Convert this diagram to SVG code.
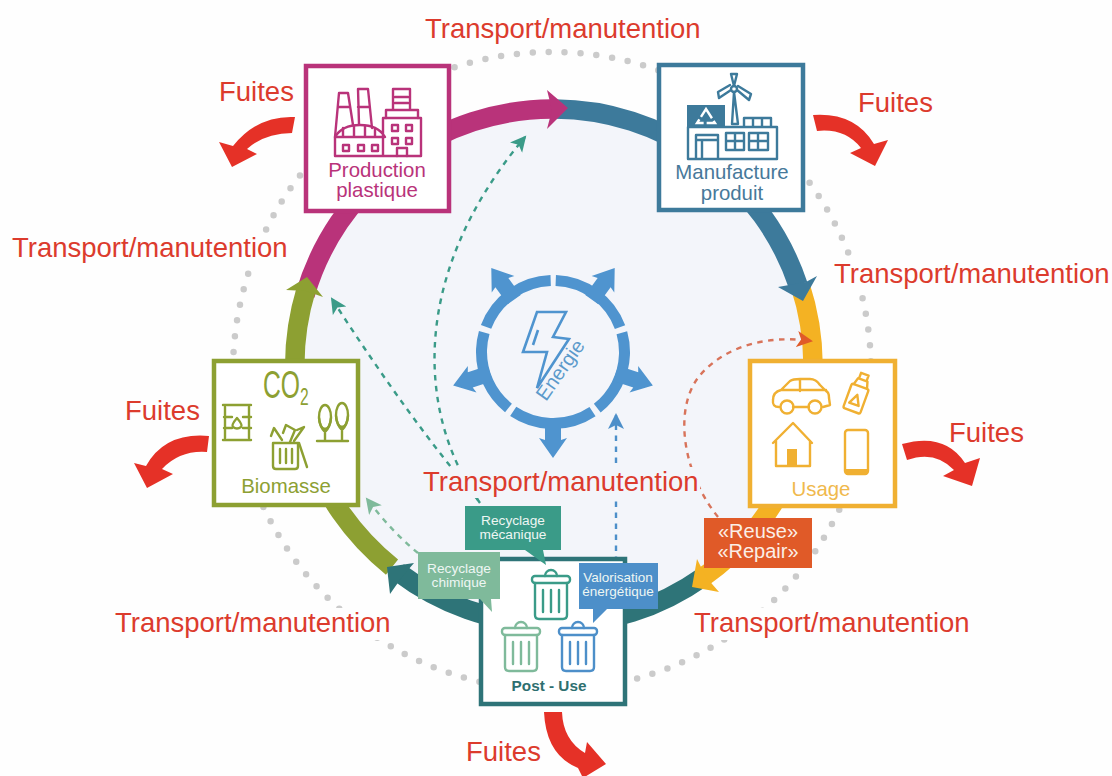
<svg xmlns="http://www.w3.org/2000/svg" xmlns:xlink="http://www.w3.org/1999/xlink" width="1112" height="776" viewBox="0 0 1112 776">
<style>
text{font-family:"Liberation Sans",Arial,sans-serif}
.red{fill:#dc3b2d;font-size:27.5px}
.box{fill:#fff;stroke-width:4.5}
.lbl{font-size:20.4px;text-anchor:middle}
.call{font-size:13.7px;text-anchor:middle;fill:#eef6f3}
.arc{fill:none;stroke-width:19.5}
.dash{fill:none;stroke-width:2.4;stroke-dasharray:5.5 5.5}
.leak{fill:#e53127}
.ic{fill:none;stroke-width:2.4;stroke-linejoin:round;stroke-linecap:round}
</style>
<defs>
<marker id="mGreen" markerUnits="userSpaceOnUse" markerWidth="18" markerHeight="18" refX="14" refY="8" orient="auto"><path d="M0,0 L16,8 L0,16 L4,8Z" fill="#3a9b88"/></marker>
<marker id="mLight" markerUnits="userSpaceOnUse" markerWidth="18" markerHeight="18" refX="14" refY="8" orient="auto"><path d="M0,0 L16,8 L0,16 L4,8Z" fill="#7fba9b"/></marker>
<marker id="mBlue" markerUnits="userSpaceOnUse" markerWidth="18" markerHeight="18" refX="14" refY="8" orient="auto"><path d="M0,0 L16,8 L0,16 L4,8Z" fill="#4d8fc9"/></marker>
<marker id="mOrange" markerUnits="userSpaceOnUse" markerWidth="18" markerHeight="18" refX="14" refY="8" orient="auto"><path d="M0,0 L16,8 L0,16 L4,8Z" fill="#e05a28"/></marker>
<g id="bin"><path d="M545,576 a6,6 0 0 1 12,0"/><rect x="532" y="576" width="38" height="7" rx="3"/><path d="M535,583 V615 q0,4 4,4 H563 q4,0 4,-4 V583"/><path d="M543,590 V612 M551,590 V612 M559,590 V612"/></g>
<path id="earrow" d="M0,-105 L14,-85 L8,-87 L8,-66 L-8,-66 L-8,-87 L-14,-85Z" fill="#4f94cf"/>
</defs>
<rect width="1112" height="776" fill="#fefefe"/>
<circle cx="555" cy="367" r="258" fill="#f3f5fa"/>
<circle cx="552" cy="371" r="319" fill="none" stroke="#cbcbcb" stroke-width="6.5" stroke-linecap="round" stroke-dasharray="0 15.95"/>
<g fill="#fefefe">
<rect x="425" y="15" width="275" height="30"/>
<rect x="12" y="233" width="276" height="32"/>
<rect x="834" y="256" width="276" height="36"/>
<rect x="115" y="608" width="276" height="32"/>
<rect x="694" y="608" width="276" height="32"/>
</g>

<g id="connectors">
<path class="arc" stroke="#b9337a" d="M305,295 A258,258 0 0 1 552,109"/>
<path class="arc" stroke="#3d7a9b" d="M555,109 A258,258 0 0 1 798,285"/>
<path class="arc" stroke="#f4b223" d="M800,285 A258,258 0 0 1 702,578"/>
<path class="arc" stroke="#2e7478" d="M703,577 A258,258 0 0 1 398,572"/>
<path class="arc" stroke="#8da032" d="M392,567 A258,258 0 0 1 306,290"/>
<path fill="#b9337a" d="M547,90 L568,108 L547,129 L552,110Z"/>
<path fill="#3d7a9b" d="M778,287 L803,301 L817,276 L806,282Z"/>
<path fill="#f4b223" d="M697,559 L692,587 L719,592 L706,577Z"/>
<path fill="#2e7478" d="M387,567 L414,563 L402,577 L390,594Z"/>
<path fill="#8da032" d="M286,290 L307,277 L323,297 L306,291Z"/>
<path class="dash" stroke="#3a9b88" marker-end="url(#mGreen)" d="M480,503 C420,420 405,280 525,137"/>
<path class="dash" stroke="#3a9b88" marker-end="url(#mGreen)" d="M478,500 Q410,420 332,299"/>
<path class="dash" stroke="#7fba9b" marker-end="url(#mLight)" d="M418,553 Q392,532 367,499"/>
<path class="dash" stroke="#4d8fc9" marker-end="url(#mBlue)" d="M616,562 V415"/>
<path class="dash" stroke="#d8735a" marker-end="url(#mOrange)" d="M718,517 C680,470 672,400 705,370 C730,345 770,335 811,341"/>
<rect x="423" y="467" width="277" height="31" fill="#f3f5fa"/>
</g>

<g id="energie">
<circle cx="553" cy="352" r="71.5" fill="none" stroke="#4f94cf" stroke-width="11" stroke-dasharray="84 5.84" transform="rotate(-87.8 553 352)"/>
<use xlink:href="#earrow" href="#earrow" transform="translate(553,353) rotate(-36)"/>
<use xlink:href="#earrow" href="#earrow" transform="translate(553,353) rotate(36)"/>
<use xlink:href="#earrow" href="#earrow" transform="translate(553,353) rotate(108)"/>
<use xlink:href="#earrow" href="#earrow" transform="translate(553,353) rotate(180)"/>
<use xlink:href="#earrow" href="#earrow" transform="translate(553,353) rotate(252)"/>
<path fill="none" stroke="#4f94cf" stroke-width="2.6" stroke-linejoin="miter" d="M537,312 H566 L553,337 L569,339 L537,388 L547,352 H523Z M538,330 L533,345"/>
<text transform="translate(546,402) rotate(-55)" font-size="20" fill="#5c9acb">Energie</text>
</g>

<g id="production">
<rect class="box" x="306" y="66" width="143" height="145" stroke="#b9337a"/>
<g class="ic" stroke="#b9337a">
<path d="M335,137 L339,93 H348 L353,125 M339,107 H349 M359,124 L358,89 H368 L372,128 M358,107 H369"/>
<path d="M335,156 V137 Q342,125 360,125 Q378,125 385,137 H335 M335,156 H421 V118 H383 V156"/>
<path d="M343,128 V136 M354,126 V136 M365,126 V136 M375,128 V136"/>
<path d="M343,145 h6 v6 h-6z M358,145 h6 v6 h-6z M372,145 h6 v6 h-6z"/>
<path d="M393,89 H410 V110 H393Z M395,97 H408 M395,103 H408 M386,110 H418 V118 M386,110 V118"/>
<path d="M392,125 h6 v6 h-6z M406,125 h6 v6 h-6z M392,138 h6 v6 h-6z M406,138 h6 v6 h-6z M397,156 V148 H407 V156"/>
</g>
<text class="lbl" x="377" y="177" fill="#b9337a">Production</text>
<text class="lbl" x="377" y="197" fill="#b9337a">plastique</text>
</g>

<g id="manufacture">
<rect class="box" x="659" y="65" width="144" height="145" stroke="#3d7a9b"/>
<rect x="687" y="105" width="38" height="22" fill="#3d7a9b"/>
<path d="M706,109 L715,123 H697Z" fill="none" stroke="#fff" stroke-width="2.4" stroke-dasharray="11 3"/>
<g class="ic" stroke="#3d7a9b">
<path d="M732,124 L734,92 L738,124Z M734,86 L731,74 H737Z M737,90 L749,100 L751,94 L738,86 M731,90 L719,98 L718,92 L730,85"/>
<circle cx="734" cy="89" r="3"/>
<path d="M744,126 V118 H771 V126 M753,118 V126 M762,118 V126"/>
<path d="M688,127 H777 V159 H688Z M696,159 V135 H718 V159 M702,140 V159 M696,140 H718"/>
<path d="M726,133 H744 V150 H726Z M735,133 V150 M726,141 H744 M749,133 H768 V150 H749Z M758,133 V150 M749,141 H768"/>
</g>
<text class="lbl" x="732" y="179" fill="#47799a">Manufacture</text>
<text class="lbl" x="732" y="200" fill="#47799a">produit</text>
</g>

<g id="usage">
<rect class="box" x="750" y="361" width="145" height="145" stroke="#f0b032"/>
<g class="ic" stroke="#f0b032">
<path d="M779,407 Q772,407 773,400 Q773,392 781,390 L790,381 Q793,379 800,379 H810 Q816,379 820,385 L826,391 Q829,392 829,398 L830,405 L823,407 M793,407 H809 M781,390 H826 M800,379 V391"/>
<circle cx="787" cy="407" r="6.5"/><circle cx="815" cy="407" r="6.5"/>
<g transform="rotate(20 858 393)"><rect x="849" y="386" width="18" height="26" rx="2"/><path d="M851,386 L853,379 H863 L865,386 M854,379 V373 H862 V379"/><path d="M858,395 L863,405 H853Z"/></g>
<path d="M773,443 L793,423 L812,443 M776,441 V466 H810 V441"/>
<rect x="845" y="430" width="23" height="44" rx="3"/>
</g>
<rect x="787" y="449" width="10" height="17" fill="#f0b032"/>
<rect x="845" y="469" width="23" height="5" fill="#f0b032"/>
<text class="lbl" x="821" y="496" fill="#f0b94d">Usage</text>
</g>

<g id="biomasse">
<rect class="box" x="214" y="361" width="144" height="144" stroke="#8da032"/>
<text transform="translate(263,398) scale(.65,1)" font-size="38" fill="#8da032">CO<tspan font-size="24" dy="7">2</tspan></text>
<g class="ic" stroke="#8da032">
<path d="M223,405 H251 M223,440 H251 M225,407 V438 M249,407 V438 M224,417 H232 M224,428 H232 M243,417 H251 M243,428 H251"/>
<path d="M237,418 Q231,425 233,427 Q237,430 241,427 Q243,425 237,418Z"/>
<path d="M273,443 H298 V466 Q298,469 295,469 H276 Q273,469 273,466Z M280,449 V463 M286,449 V463 M292,449 V463"/>
<path d="M271,436 L274,428 L282,440 M283,433 L286,425 L295,430 L290,442 M297,430 L304,427 L294,441 M299,443 L307,467"/>
<ellipse cx="325" cy="417" rx="6" ry="12"/><ellipse cx="342" cy="415" rx="6" ry="12"/>
<path d="M325,429 V441 M342,427 V441 M317,441 H348 M319,418 Q320,428 325,432 Q330,428 331,418 M336,416 Q337,426 342,430 Q347,426 348,416"/>
</g>
<text class="lbl" x="286" y="493" fill="#8da032">Biomasse</text>
</g>

<g id="postuse">
<rect class="box" x="481" y="559" width="144" height="145" stroke="#2e7478"/>
<use xlink:href="#bin" href="#bin" class="ic" stroke="#3a9b88"/>
<use xlink:href="#bin" href="#bin" class="ic" stroke="#7fba9b" transform="translate(-30,52)"/>
<use xlink:href="#bin" href="#bin" class="ic" stroke="#4d8fc9" transform="translate(27,52)"/>
<text x="549" y="691" font-size="15.3" font-weight="700" text-anchor="middle" fill="#2e6f70">Post - Use</text>
</g>

<g id="recyclage-mecanique">
<path fill="#3a9b88" d="M465,506 H561 V550 H543 L546,565 L525,550 H465Z"/>
<text class="call" x="513" y="525">Recyclage</text>
<text class="call" x="513" y="539">mécanique</text>
</g>
<g id="recyclage-chimique">
<path fill="#7fba9b" d="M418,552 H500 V599 H491 L492,612 L480,599 H418Z"/>
<text class="call" x="459" y="573">Recyclage</text>
<text class="call" x="459" y="587">chimique</text>
</g>
<g id="valorisation">
<path fill="#4d8fc9" d="M579,563 H658 V609 H607 L593,623 V609 H579Z"/>
<text class="call" x="618" y="582" style="font-size:13.5px">Valorisation</text>
<text class="call" x="618" y="596" style="font-size:13.5px">énergétique</text>
</g>
<g id="reuse">
<rect x="704" y="518" width="108" height="50" fill="#e05a28"/>
<text x="758" y="538" font-size="20" text-anchor="middle" fill="#fbeee6">«Reuse»</text>
<text x="758" y="558" font-size="20" text-anchor="middle" fill="#fbeee6">«Repair»</text>
</g>

<g id="fuites">
<path class="leak" d="M295,117 Q258,115 233,146 L219,142 L232,167 L257,154 L247,149 Q265,133 292,133Z"/>
<path class="leak" d="M813,115 Q855,112 874,144 L888,140 L875,166 L850,153 L861,148 Q845,128 817,131Z"/>
<path class="leak" d="M902,444 Q945,432 965,463 L980,458 L972,486 L943,476 L954,470 Q935,450 907,460Z"/>
<path class="leak" d="M209,436 Q165,432 146,466 L134,463 L147,488 L173,474 L162,469 Q180,450 207,452Z"/>
<path class="leak" d="M544,712 Q546,755 578,768 L583,778 L606,764 L587,742 L585,753 Q563,740 562,712Z"/>
<text class="red" x="219" y="101">Fuites</text>
<text class="red" x="858" y="112">Fuites</text>
<text class="red" x="949" y="442">Fuites</text>
<text class="red" x="125" y="420">Fuites</text>
<text class="red" x="466" y="761">Fuites</text>
</g>
<g id="transport">
<text class="red" x="425" y="38">Transport/manutention</text>
<text class="red" x="12" y="257">Transport/manutention</text>
<text class="red" x="834" y="283">Transport/manutention</text>
<text class="red" x="423" y="491">Transport/manutention</text>
<text class="red" x="115" y="632">Transport/manutention</text>
<text class="red" x="694" y="632">Transport/manutention</text>
</g>
</svg>
